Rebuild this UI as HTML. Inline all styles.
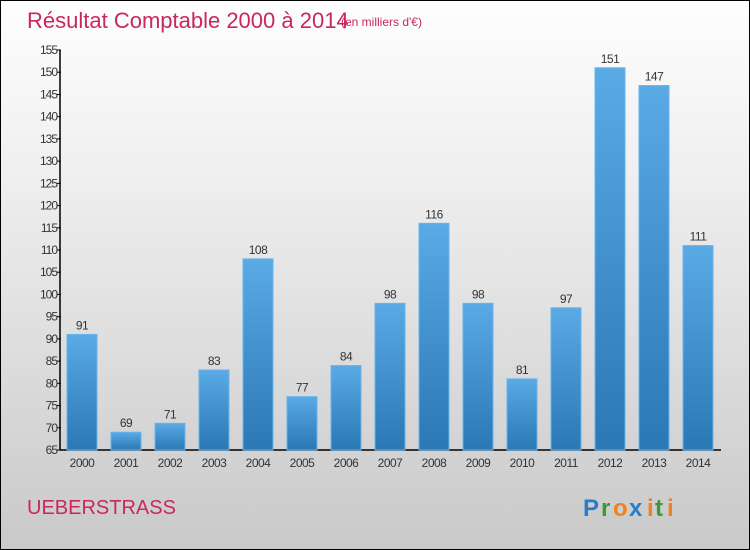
<!DOCTYPE html>
<html><head><meta charset="utf-8"><style>
body{margin:0}
#c{width:748px;height:548px;border:1px solid #000;position:relative;background:linear-gradient(#fefefe,#f0f0f0 30%,#c9c9c9);font-family:"Liberation Sans",sans-serif;overflow:hidden}
</style></head><body>
<div id="c">
<svg id="s" width="748" height="548">
<defs><linearGradient id="g" x1="0" y1="0" x2="0" y2="1"><stop offset="0" stop-color="#5aaae6"/><stop offset="1" stop-color="#2a78b4"/></linearGradient></defs>
<text x="26" y="27" font-size="22" fill="#c8285a">Résultat Comptable 2000 à 2014</text>
<text x="340" y="25" font-size="12" fill="#c8285a">(en milliers d'€)</text>
<text x="26" y="513" font-size="20" fill="#c8285a">UEBERSTRASS</text>
<g font-size="24" font-weight="bold" font-family="Liberation Sans, sans-serif">
<text x="582" y="515" fill="#2a7ccc">P</text><text x="600" y="515" fill="#3a9a3a">r</text><text x="612" y="515" fill="#f08020">o</text><text x="628" y="515" fill="#2a7ccc">x</text><text x="646" y="515" fill="#f08020">i</text><text x="654" y="515" fill="#3a9a3a">t</text><text x="666" y="515" fill="#f08020">i</text></g>
<g id="axes"></g><g id="bars"></g>
</svg></div>
<script>
const years=["2000","2001","2002","2003","2004","2005","2006","2007","2008","2009","2010","2011","2012","2013","2014"];
const values=[91,69,71,83,108,77,84,98,116,98,81,97,151,147,111];
const ticks=[65,70,75,80,85,90,95,100,105,110,115,120,125,130,135,140,145,150,155];
const NS="http://www.w3.org/2000/svg";
const y=v=>449-(v-65)*(400/90);
const x=i=>81+i*44;
function mk(t,a,p){const e=document.createElementNS(NS,t);for(const k in a)e.setAttribute(k,a[k]);p.appendChild(e);return e;}
const ax=document.getElementById('axes'),bg=document.getElementById('bars');
const yl=mk('line',{x1:59,y1:49,x2:59,y2:449,stroke:'#000','stroke-width':1.5},ax);


const xl=mk('line',{x1:59,y1:449,x2:720,y2:449,stroke:'#000','stroke-width':1.5},ax);


ticks.forEach(t=>{
 mk('line',{x1:56,y1:y(t),x2:60,y2:y(t),stroke:'#000'},ax);
 const tx=mk('text',{x:56,y:y(t)+4,'font-size':12,fill:'#333','text-anchor':'end','letter-spacing':'-1'},ax);
 tx.textContent=t;
 
 
});
years.forEach((yr,i)=>{
 const v=values[i];
 const r=mk('rect',{x:x(i)-15,y:y(v),width:30,height:449-y(v),fill:'url(#g)',stroke:'#66b4ee','stroke-width':1},bg);
 
 
 const l=mk('text',{x:x(i),y:y(v)-5,'font-size':12,fill:'#333','text-anchor':'middle','letter-spacing':'-0.5'},bg);
 l.textContent=v;
 
 
 const xt=mk('text',{x:x(i),y:466,'font-size':12,fill:'#333','text-anchor':'middle','letter-spacing':'-0.5'},bg);
 xt.textContent=yr;
 
 
});
</script>
</body></html>
